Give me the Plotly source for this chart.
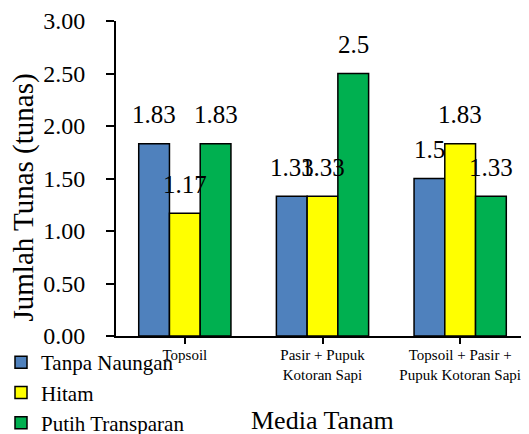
import plotly.graph_objects as go

categories = ["Topsoil", "Pasir + Pupuk<br>Kotoran Sapi", "Topsoil + Pasir +<br>Pupuk Kotoran Sapi"]
series_names = ["Tanpa Naungan", "Hitam", "Putih Transparan"]
tanpa_naungan = [1.83, 1.33, 1.5]
hitam = [1.17, 1.33, 1.83]
putih_transparan = [1.83, 2.5, 1.33]
series_values = [tanpa_naungan, hitam, putih_transparan]
colors = ["#4F81BD", "#FFFF00", "#00B050"]
y_ticks = [0, 0.5, 1.0, 1.5, 2.0, 2.5, 3.0]

FONT = "Times New Roman, Liberation Serif, DejaVu Serif, serif"
bargap = 0.33

# the page body adds an 8px offset, so the figure is sized to fill the rest
W, H = 521, 426
ML, MR, MT, MB = 108, 0, 13, 97.5

fig = go.Figure()
for name, vals, col in zip(series_names, series_values, colors):
    fig.add_trace(go.Bar(
        x=list(range(len(categories))), y=vals, name=name,
        marker=dict(color=col, line=dict(color="black", width=1.5)),
    ))

# data labels above bars
n = len(series_names)
bw = (1 - bargap) / n
annotations = []
for i, vals in enumerate(series_values):
    for ci, v in enumerate(vals):
        annotations.append(dict(
            x=ci + (i - (n - 1) / 2) * bw, y=v, xref="x", yref="y",
            text=f"{v:g}", showarrow=False, yanchor="middle", yshift=29,
            font=dict(family=FONT, size=25, color="black"),
        ))

# axis titles
annotations.append(dict(
    text="Media Tanam", xref="paper", yref="paper", x=0.5, y=0, yshift=-84,
    showarrow=False, xanchor="center", yanchor="middle",
    font=dict(family=FONT, size=26, color="black"),
))
annotations.append(dict(
    text="Jumlah Tunas (tunas)", xref="paper", yref="paper", x=0, xshift=-93, y=0.5, yshift=-19,
    showarrow=False, xanchor="center", yanchor="middle", textangle=-90,
    font=dict(family=FONT, size=29, color="black"),
))

plot_w = W - ML - MR
fig.update_layout(
    width=W, height=H,
    margin=dict(l=ML, r=MR, t=MT, b=MB, autoexpand=False),
    paper_bgcolor="white", plot_bgcolor="white",
    barmode="group", bargap=bargap, bargroupgap=0,
    font=dict(family=FONT, color="black"),
    showlegend=True,
    legend=dict(
        xref="paper", yref="container", x=-(ML + 7) / plot_w, y=1 - 334 / H,
        xanchor="left", yanchor="top",
        font=dict(family=FONT, size=21, color="black"),
        bgcolor="rgba(0,0,0,0)", tracegroupgap=0, itemwidth=30,
    ),
    annotations=annotations,
)
fig.update_xaxes(
    tickmode="array", tickvals=list(range(len(categories))), ticktext=categories,
    range=[-0.5, len(categories) - 0.5],
    showline=True, linecolor="black", linewidth=2,
    ticks="outside", tickson="boundaries", ticklen=6, tickwidth=1.5, tickcolor="black",
    tickfont=dict(family=FONT, size=15, color="black"),
    showgrid=False, zeroline=False, automargin=False, ticklabelstandoff=-2,
)
fig.update_yaxes(
    range=[0, 3], tickvals=y_ticks, tickformat=".2f",
    showline=True, linecolor="black", linewidth=2,
    ticks="outside", ticklen=8, tickwidth=1.5, tickcolor="black",
    tickfont=dict(family=FONT, size=24, color="black"),
    showgrid=False, zeroline=False, automargin=False, ticklabelstandoff=16,
)

fig.write_html("out.html")
